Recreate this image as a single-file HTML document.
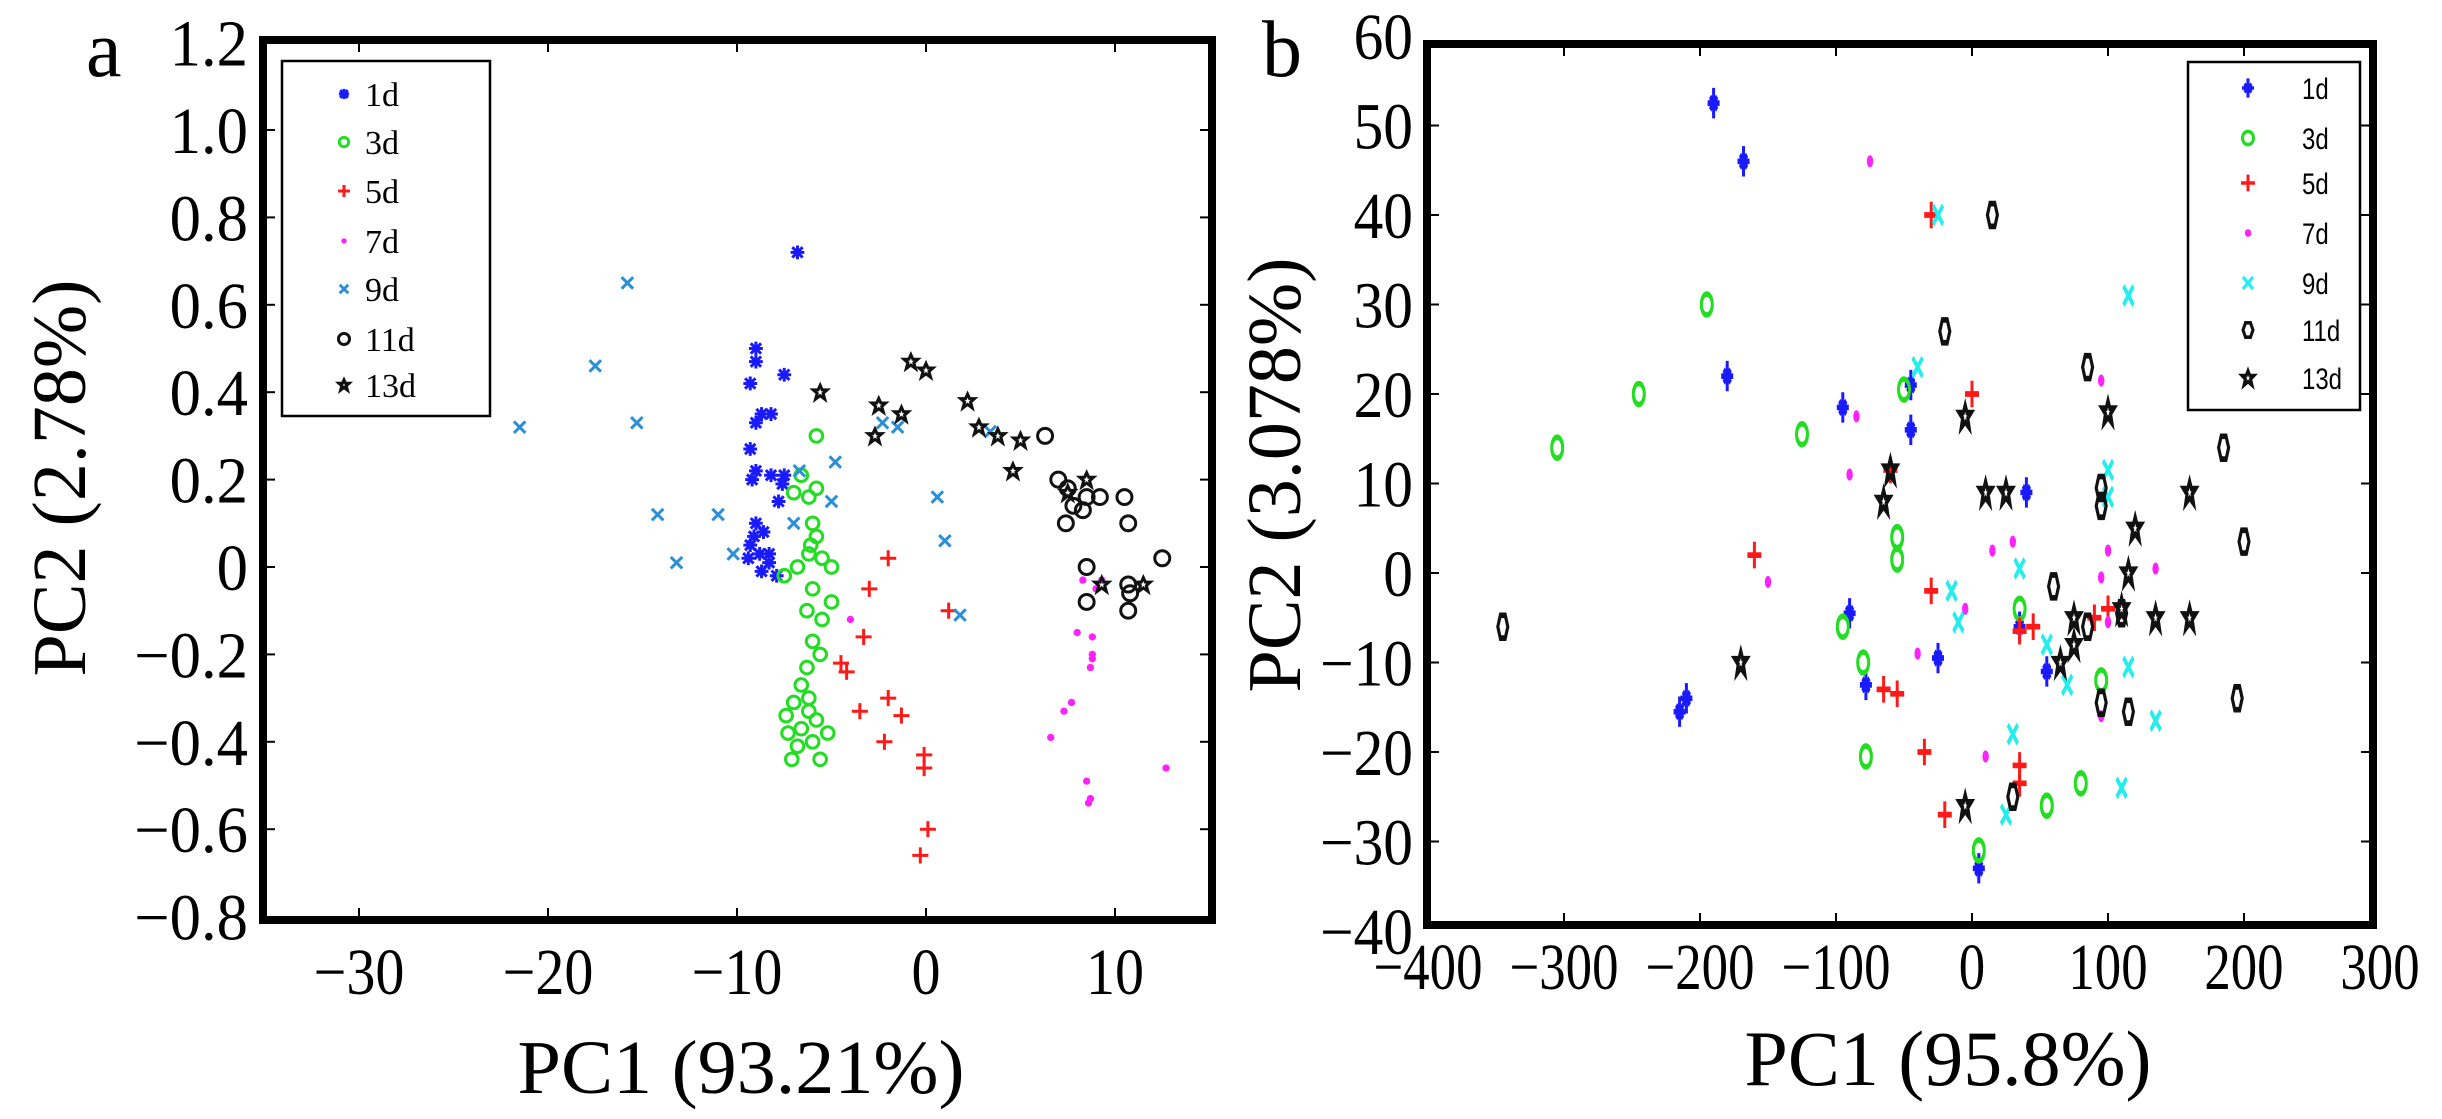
<!DOCTYPE html>
<html><head><meta charset="utf-8"><style>
html,body{margin:0;padding:0;background:#fff;}
svg{display:block;}
text{font-family:"Liberation Serif",serif;}
</style></head><body>
<svg id="fig" width="2442" height="1119" viewBox="0 0 2442 1119" xmlns="http://www.w3.org/2000/svg">
<g id="pa"></g>
<g id="pb"></g>
</svg>
<script>
// ---------- Panel a data ----------
const aSeries = ["1d","3d","5d","7d","9d","11d","13d"];
const aXTicks = [-30,-20,-10,0,10];
const aXTickLabels = ["\u221230","\u221220","\u221210","0","10"];
const aYTicks = [1.2,1.0,0.8,0.6,0.4,0.2,0,-0.2,-0.4,-0.6,-0.8];
const aYTickLabels = ["1.2","1.0","0.8","0.6","0.4","0.2","0","\u22120.2","\u22120.4","\u22120.6","\u22120.8"];
const a1d = [[-6.8,0.72],[-9,0.5],[-9,0.47],[-7.5,0.44],[-9.3,0.42],[-8.7,0.35],[-9,0.33],[-8.2,0.35],[-9.3,0.27],[-9,0.22],[-9.2,0.2],[-8.2,0.21],[-7.5,0.21],[-7.6,0.19],[-9,0.1],[-8.6,0.08],[-9.3,0.05],[-8.8,0.03],[-9.4,0.02],[-8.3,0.01],[-8.7,-0.01],[-7.9,-0.02],[-8.3,0.03],[-9.1,0.07],[-7.8,0.15]];
const a3d = [[-5.8,0.3],[-6.6,0.21],[-6.2,0.16],[-5.8,0.18],[-7,0.17],[-6,0.1],[-5.8,0.07],[-6.1,0.05],[-6.2,0.03],[-5.5,0.02],[-6.8,0.0],[-7.5,-0.02],[-5,0],[-6,-0.05],[-5,-0.08],[-6.3,-0.1],[-5.5,-0.12],[-6,-0.17],[-5.6,-0.2],[-6.3,-0.23],[-6.6,-0.27],[-6.2,-0.3],[-7,-0.31],[-6.2,-0.33],[-7.4,-0.34],[-5.8,-0.35],[-6.6,-0.37],[-7.3,-0.38],[-5.2,-0.38],[-6,-0.4],[-6.8,-0.41],[-7.1,-0.44],[-5.6,-0.44]];
const a5d = [[-2,0.02],[-3,-0.05],[-3.3,-0.16],[-4.5,-0.22],[-4.2,-0.24],[-2,-0.3],[-1.3,-0.34],[-3.5,-0.33],[-2.2,-0.4],[-0.1,-0.43],[-0.1,-0.46],[1.2,-0.1],[0.1,-0.6],[-0.3,-0.66]];
const a7d = [[-4,-0.12],[8.3,-0.03],[9.3,-0.03],[8,-0.15],[8.8,-0.16],[8.8,-0.2],[8.7,-0.23],[7.7,-0.31],[7.3,-0.33],[6.6,-0.39],[8.5,-0.49],[8.7,-0.53],[8.6,-0.54],[12.7,-0.46],[8.8,-0.21],[9,-0.05]];
const a9d = [[-21.5,0.32],[-17.5,0.46],[-15.8,0.65],[-15.3,0.33],[-14.2,0.12],[-13.2,0.01],[-11,0.12],[-10.2,0.03],[-7,0.1],[-6.7,0.22],[-4.8,0.24],[-2.3,0.33],[-1.5,0.32],[3.4,0.31],[0.6,0.16],[1,0.06],[1.8,-0.11],[-5,0.15]];
const a11d = [[6.3,0.3],[7,0.2],[7.5,0.18],[8.5,0.16],[9.2,0.16],[10.5,0.16],[10.7,0.1],[7.4,0.1],[8.3,0.13],[12.5,0.02],[8.5,0],[10.7,-0.04],[10.8,-0.06],[8.5,-0.08],[10.7,-0.1],[7.8,0.14]];
const a13d = [[-0.8,0.47],[0,0.45],[-2.5,0.37],[-5.6,0.4],[-1.3,0.35],[2.2,0.38],[-2.7,0.3],[2.8,0.32],[3.8,0.3],[5,0.29],[4.6,0.22],[7.5,0.17],[8.5,0.2],[11.5,-0.04],[9.3,-0.04]];

// ---------- Panel b data ----------
const bXTicks = [-400,-300,-200,-100,0,100,200,300];
const bXTickLabels = ["\u2212400","\u2212300","\u2212200","\u2212100","0","100","200","300"];
const bYTicks = [60,50,40,30,20,10,0,-10,-20,-30,-40];
const bYTickLabels = ["60","50","40","30","20","10","0","\u221210","\u221220","\u221230","\u221240"];
const b1d = [[-190,52.5],[-168,46],[-180,22],[-95,18.5],[-45,21],[-45,16],[-210,-14],[-215,-15.5],[-90,-4.5],[-78,-12.5],[-25,-9.5],[40,9],[55,-11],[5,-33],[35,-6]];
const b3d = [[-305,14],[-245,20],[-195,30],[-125,15.5],[-50,20.5],[-55,4],[-55,1.5],[-95,-6],[-80,-10],[-78,-20.5],[5,-31],[35,-4],[95,-12],[55,-26],[80,-23.5]];
const b5d = [[-30,40],[0,20],[-60,11.5],[-160,2],[-30,-2],[-65,-13],[-55,-13.5],[-35,-20],[-20,-27],[35,-21.5],[35,-23.5],[35,-6.5],[90,-5],[100,-4],[45,-6]];
const b7d = [[-75,46],[95,21.5],[-85,17.5],[-90,11],[-150,-1],[-5,-4],[15,2.5],[30,3.5],[100,2.5],[-40,-9],[10,-20.5],[95,-16],[135,0.5],[95,-0.5],[100,-5.5]];
const b9d = [[-25,40],[-40,23],[115,31],[100,11.5],[100,8.5],[-15,-2],[35,0.5],[-10,-5.5],[30,-18],[25,-27],[70,-12.5],[115,-10.5],[135,-16.5],[110,-24],[55,-8]];
const b11d = [[15,40],[-20,27],[85,23],[185,14],[95,9.5],[95,7.5],[200,3.5],[60,-1.5],[-345,-6],[110,-4.5],[85,-6],[95,-14.5],[115,-15.5],[195,-14],[30,-25]];
const b13d = [[-5,17.5],[100,18],[-60,11.5],[-65,8],[10,9],[25,9],[120,5],[160,9],[115,0],[110,-4],[135,-5],[160,-5],[-170,-10],[75,-5],[65,-10],[75,-8],[-5,-26]];

const NS="http://www.w3.org/2000/svg";
function mk(tag, attrs, parent){const e=document.createElementNS(NS,tag);for(const k in attrs)e.setAttribute(k,attrs[k]);parent.appendChild(e);return e;}

const axA = {x:v=>926+18.9*v, y:v=>567-437*v, L:263, R:1212, T:40, B:920};
const axB = {x:v=>1972+1.36*v, y:v=>573-8.95*v, L:1427, R:2373, T:44, B:925};

function marker(g, kind, cx, cy, sx, sy, color){
  const m = mk('g',{transform:`translate(${cx},${cy}) scale(${sx},${sy})`, stroke:color, fill:'none','stroke-width':3/Math.min(sx,sy)},g);
  if(kind==='star'){
    mk('path',{d:'M-6,0H6M0,-6V6M-4.5,-4.5L4.5,4.5M-4.5,4.5L4.5,-4.5'},m);
  } else if(kind==='plusstar'){
    mk('path',{d:'M-6,0H6M0,-8V8M-3.5,-3.5L3.5,3.5M-3.5,3.5L3.5,-3.5'},m);
  } else if(kind==='circle'){
    mk('circle',{cx:0,cy:0,r:5.5},m);
  } else if(kind==='bigcircle'){
    mk('circle',{cx:0,cy:0,r:6.5},m);
  } else if(kind==='plus'){
    mk('path',{d:'M-7,0H7M0,-7V7'},m);
  } else if(kind==='dot'){
    mk('ellipse',{cx:0,cy:0,rx:3.2,ry:3.2,fill:color,stroke:'none'},m);
  } else if(kind==='x'){
    mk('path',{d:'M-5,-5L5,5M-5,5L5,-5'},m);
  } else if(kind==='hex'){
    mk('path',{d:'M-2.5,-6H2.5L5,0L2.5,6H-2.5L-5,0Z'},m);
  } else if(kind==='pent'){
    mk('path',{d:'M0,-6L1.8,-2H6L2.6,1L4,6L0,3L-4,6L-2.6,1L-6,-2H-1.8Z'},m);
  }
}

function drawPanel(g, ax, xt, xtl, yt, ytl, opts){
  const frame = mk('rect',{x:ax.L,y:ax.T,width:ax.R-ax.L,height:ax.B-ax.T,fill:'none',stroke:'#000','stroke-width':8},g);
  
  
  xt.forEach((v,i)=>{
    const x=ax.x(v);
    if(x>ax.L+6 && x<ax.R-6){
      mk('line',{x1:x,x2:x,y1:ax.B,y2:ax.B-12,stroke:'#000','stroke-width':2},g);
      mk('line',{x1:x,x2:x,y1:ax.T,y2:ax.T+12,stroke:'#000','stroke-width':2},g);
    }
    const t=mk('text',{x:x,y:opts.xlabY,'font-size':opts.tickFs,'text-anchor':'middle',transform:`translate(${x},0) scale(${opts.xsq},1) translate(${-x},0)`},g);
    t.textContent=xtl[i];
    
    
  });
  yt.forEach((v,i)=>{
    const y=ax.y(v);
    if(y>ax.T+6 && y<ax.B-6){
      mk('line',{x1:ax.L,x2:ax.L+12,y1:y,y2:y,stroke:'#000','stroke-width':2},g);
      mk('line',{x1:ax.R,x2:ax.R-12,y1:y,y2:y,stroke:'#000','stroke-width':2},g);
    }
    const t=mk('text',{x:opts.ylabX,y:y+23,'font-size':opts.tickFs,'text-anchor':'end',transform:`translate(${opts.ylabX},0) scale(${opts.ysq},1) translate(${-opts.ylabX},0)`},g);
    t.textContent=ytl[i];
    
    
  });
}

// ---- Panel a ----
const pa=document.getElementById('pa');
drawPanel(pa, axA, aXTicks, aXTickLabels, aYTicks, aYTickLabels, {xlabY:994, ylabX:248, tickFs:66, xsq:0.88, ysq:0.95});
const aData=[a1d,a3d,a5d,a7d,a9d,a11d,a13d];
const aKinds=['star','circle','plus','dot','x','bigcircle','pent'];
const aColors=['#1a1aff','#22dd22','#ff1a1a','#ff22ff','#2a8fd6','#111','#111'];
aData.forEach((s,k)=>{
  const g=mk('g',{},pa);
  
  
  s.forEach(p=>{
    marker(g,aKinds[k],axA.x(p[0]),axA.y(p[1]),1.15,1.15,aColors[k]);
  });
});
const la=mk('g',{},pa);


mk('rect',{x:282,y:61,width:208,height:355,fill:'#fff',stroke:'#000','stroke-width':2.5},la);
const laY=[94,142,191,241,289,339,385];
aSeries.forEach((s,i)=>{
  marker(la,aKinds[i],344,laY[i],0.85,0.85,aColors[i]);
  const t=mk('text',{x:365,y:laY[i]+12,'font-size':34},la);
  t.textContent=s;
  
  
});
let t;
t=mk('text',{x:741,y:1093,'font-size':76,'text-anchor':'middle',textLength:447,lengthAdjust:'spacingAndGlyphs'},pa);
t.textContent='PC1 (93.21%)';


t=mk('text',{x:0,y:0,'font-size':76,'text-anchor':'middle',transform:'translate(85,478) rotate(-90)'},pa);
t.textContent='PC2 (2.78%)';


t=mk('text',{x:86,y:76,'font-size':80},pa);
t.textContent='a';



// ---- Panel b ----
const pb=document.getElementById('pb');
drawPanel(pb, axB, bXTicks, bXTickLabels, bYTicks, bYTickLabels, {xlabY:989, ylabX:1413, tickFs:66, xsq:0.8, ysq:0.9});
const bData=[b1d,b3d,b5d,b7d,b9d,b11d,b13d];
const bKinds=['plusstar','circle','plus','dot','x','hex','pent'];
const bColors=['#1a1aff','#22dd22','#ff1a1a','#ff22ff','#22eeee','#111','#111'];
bData.forEach((s,k)=>{
  const g=mk('g',{},pb);
  
  
  s.forEach(p=>{
    marker(g,bKinds[k],axB.x(p[0]),axB.y(p[1]),1.0,1.9,bColors[k]);
  });
});
const lb=mk('g',{},pb);


mk('rect',{x:2188,y:62,width:172,height:348,fill:'#fff',stroke:'#000','stroke-width':2.5},lb);
const lbY=[88,138,183,233,283,330,378];
aSeries.forEach((s,i)=>{
  marker(lb,bKinds[i],2248,lbY[i],1.0,1.2,bColors[i]);
  const tt=mk('text',{x:2302,y:lbY[i]+11,'font-size':30,style:'font-family:"Liberation Sans",sans-serif',transform:`translate(2302,0) scale(0.8,1) translate(-2302,0)`},lb);
  tt.textContent=s;
  
  
});
t=mk('text',{x:1948,y:1085,'font-size':78,'text-anchor':'middle',textLength:407,lengthAdjust:'spacingAndGlyphs'},pb);
t.textContent='PC1 (95.8%)';


t=mk('text',{x:0,y:0,'font-size':76,'text-anchor':'middle',transform:'translate(1300,475) rotate(-90)'},pb);
t.textContent='PC2 (3.078%)';


t=mk('text',{x:1262,y:76,'font-size':80},pb);
t.textContent='b';


</script>
</body></html>
